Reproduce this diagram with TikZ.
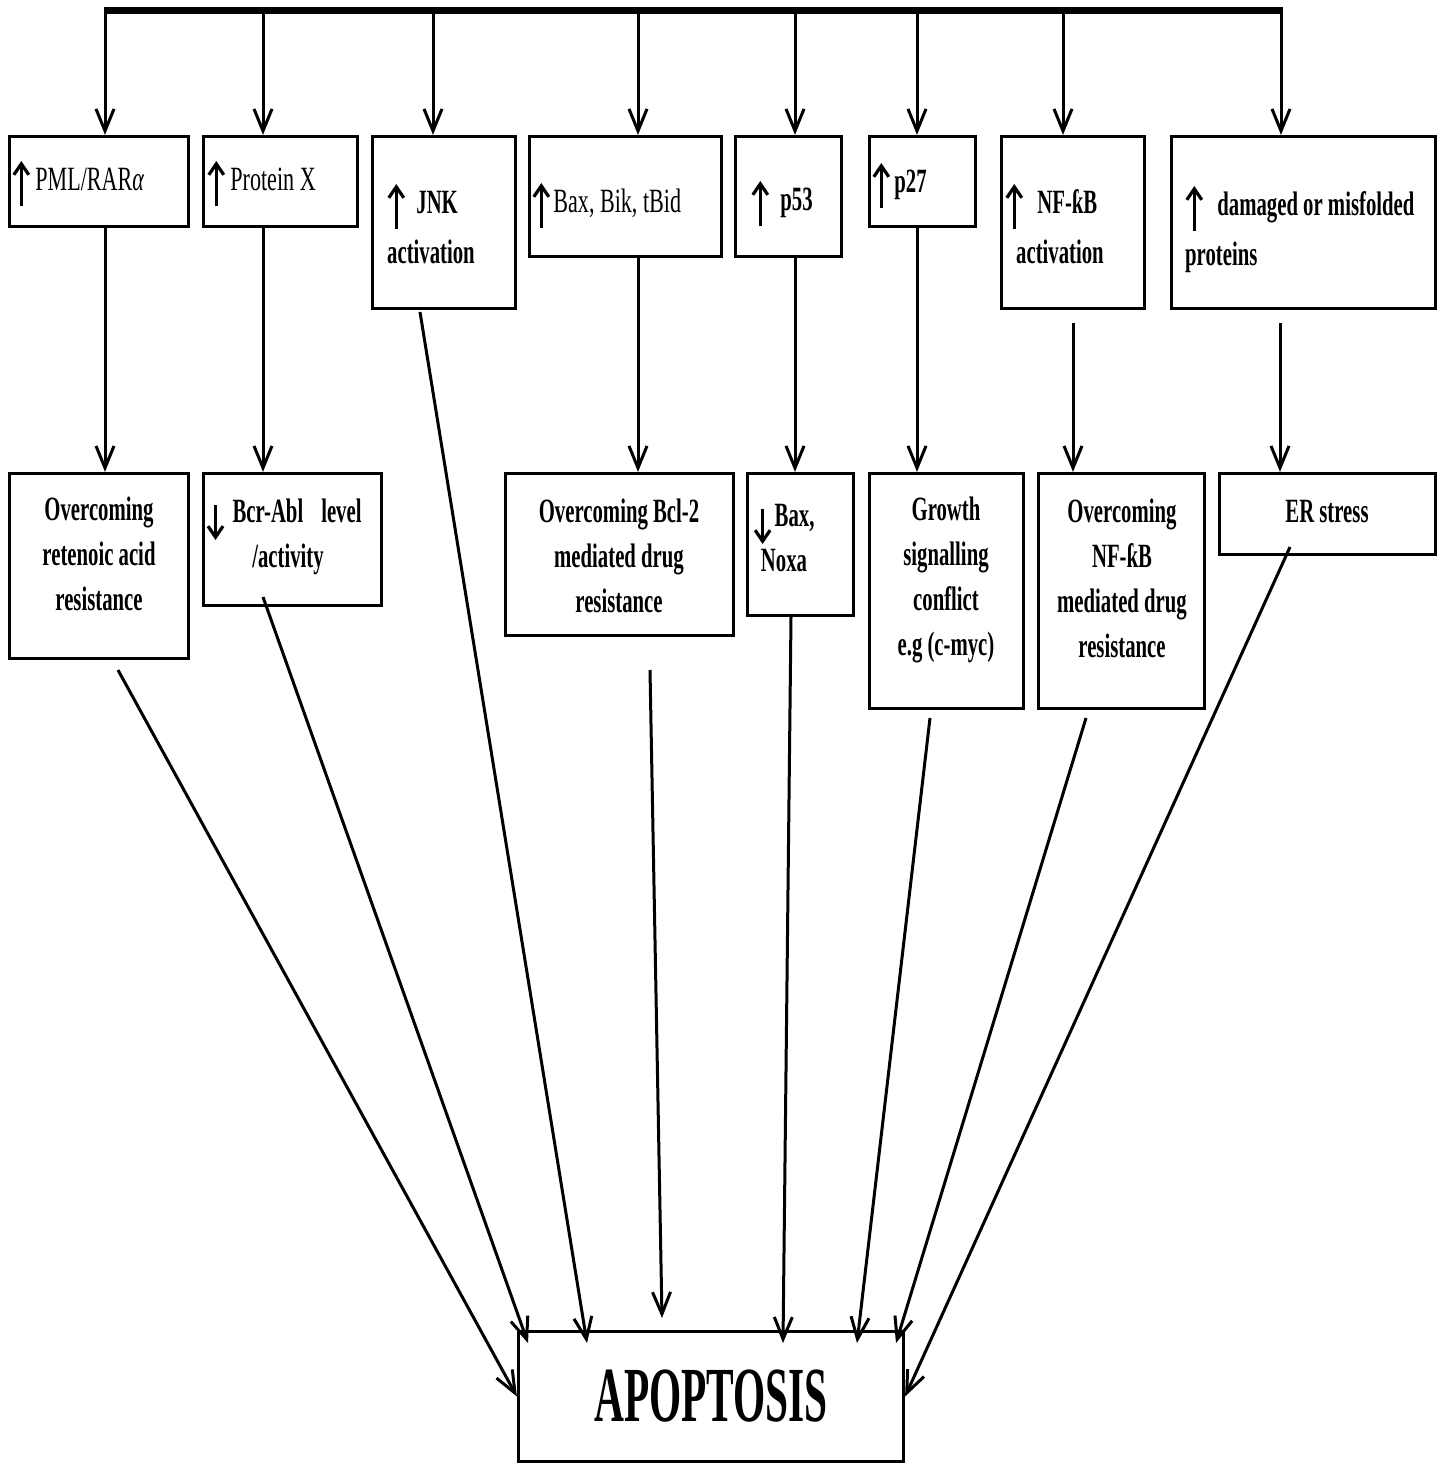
\documentclass[tikz,border=0pt]{standalone}
\usepackage{fontspec}
\usetikzlibrary{arrows.meta}
\newfontfamily\fr[FakeStretch=0.65]{Liberation Serif}
\newfontfamily\fb[FakeStretch=0.61]{Liberation Serif}
\newfontfamily\fa[FakeStretch=0.53]{Liberation Serif}
\newcommand\uparr{\tikz[baseline=0pt,x=1pt,y=1pt]\draw[line width=3.2pt,-{Straight Barb[length=11pt,width=15pt]}](0,-16)--(0,29);}
\newcommand\dnarr{\tikz[baseline=0pt,x=1pt,y=1pt]\draw[line width=3.2pt,-{Straight Barb[length=11pt,width=15pt]}](0,17)--(0,-18);}
\begin{document}
\begin{tikzpicture}[x=1pt,y=-1pt,
  box/.style={draw,line width=3.2pt,inner sep=0pt,rectangle},
  tr/.style={font=\fr\fontsize{34}{50}\selectfont,inner sep=0pt},
  tb/.style={font=\fb\bfseries\fontsize{34}{50}\selectfont,inner sep=0pt},
  tc/.style={font=\fb\bfseries\fontsize{34}{45}\selectfont,inner sep=0pt},
  arr/.style={line width=3pt,-{Straight Barb[length=22pt,width=18pt]}},
  bar/.style={line width=7pt}]
\fill[white] (0,0) rectangle (1443,1465);
\useasboundingbox (0,0) rectangle (1443,1465);
\newcommand\bx[5]{\node[box,minimum width={#4-#2-3},minimum height={#5-#3-3}] (#1) at ({(#2+#4)/2},{(#3+#5)/2}) {};}
% top row boxes
\bx{a1}{8}{135}{190}{228}
\bx{a2}{202}{135}{359}{228}
\bx{a3}{371}{135}{517}{310}
\bx{a4}{528}{135}{723}{258}
\bx{a5}{734}{135}{843}{258}
\bx{a6}{868}{135}{977}{228}
\bx{a7}{1000}{135}{1146}{310}
\bx{a8}{1170}{135}{1437}{310}
% second row boxes
\bx{c1}{8}{472}{190}{660}
\bx{c2}{202}{472}{383}{607}
\bx{c3}{504}{472}{735}{637}
\bx{c4}{746}{472}{855}{617}
\bx{c5}{868}{472}{1025}{710}
\bx{c6}{1037}{472}{1206}{710}
\bx{c7}{1218}{472}{1437}{556}
% apoptosis
\node[box,minimum width=385,minimum height=130,font=\fa\bfseries\fontsize{78}{80}\selectfont] (ap) at (711,1396.5) {APOPTOSIS};
% texts top row
\node[tr,anchor=base west] (a1t) at (12,190) {\uparr\hspace{5pt}PML/RAR\textit{α}};
\node[tr,anchor=base west] (a2t) at (207,190) {\uparr\hspace{5pt}Protein X};
\node[tb,anchor=base west,text width=130,align=flush left] (a3t) at (387,213) {\uparr\hspace{11pt}JNK\\activation};
\node[tr,anchor=base west] (a4t) at (532,212) {\uparr\hspace{3pt}Bax, Bik, tBid};
\node[tb,anchor=base west] (a5t) at (751,210) {\uparr\hspace{11pt}p53};
\node[tb,anchor=base west] (a6t) at (872,192) {\uparr\hspace{4pt}p27};
\node[tb,anchor=base west,text width=140,align=flush left] (a7t) at (1005,213) {\uparr\hspace{14pt}NF-ƙB\\\hspace*{11pt}activation};
\node[tb,anchor=base west,text width=250,align=flush left] (a8t) at (1185,215) {\uparr\hspace{14pt}damaged or misfolded\\proteins};
% texts second row
\node[tc,anchor=base,text width=180,align=flush center] (c1t) at (99,520) {Overcoming\\retenoic acid\\resistance};
\node[tc,anchor=base,text width=180,align=flush center] (c2t) at (284,522) {\dnarr\hspace{8pt}Bcr-Abl\hspace{18pt}level\\\hspace*{8pt}/activity};
\node[tc,anchor=base,text width=228,align=flush center] (c3t) at (619,522) {Overcoming Bcl-2\\mediated drug\\resistance};
\node[tc,anchor=base,text width=108,align=flush center] (c4t) at (784,526) {\dnarr\hspace{3pt}Bax,\\Noxa};
\node[tc,anchor=base,text width=155,align=flush center] (c5t) at (946,520) {Growth\\signalling\\conflict\\e.g (c-myc)};
\node[tc,anchor=base,text width=166,align=flush center] (c6t) at (1122,522) {Overcoming\\NF-ƙB\\mediated drug\\resistance};
\node[tc,anchor=base] (c7t) at (1327,522) {ER stress};
% top bar and drops
\coordinate (d1) at (105,10);
\coordinate (d2) at (263,10);
\coordinate (d3) at (433,10);
\coordinate (d4) at (638,10);
\coordinate (d5) at (795,10);
\coordinate (d6) at (917,10);
\coordinate (d7) at (1063,10);
\coordinate (d8) at (1281,10);
\draw[bar] ([xshift=-1.5pt]d1) -- ([xshift=1.5pt]d8);
\foreach \i in {1,...,8}{\draw[arr] (d\i) -- (d\i |- a\i.north);}
% middle arrows
\coordinate (m7) at (1073,323);
\coordinate (m8) at (1280,323);
\draw[arr] (d1 |- a1.south) -- (d1 |- c1.north);
\draw[arr] (d2 |- a2.south) -- (d2 |- c2.north);
\draw[arr] (d4 |- a4.south) -- (d4 |- c3.north);
\draw[arr] (d5 |- a5.south) -- (d5 |- c4.north);
\draw[arr] (d6 |- a6.south) -- (d6 |- c5.north);
\draw[arr] (m7) -- (m7 |- c6.north);
\draw[arr] (m8) -- (m8 |- c7.north);
% arrows to apoptosis
\coordinate (s1) at (118,670);
\coordinate (s2) at (263,597);
\coordinate (s3) at (420,312);
\coordinate (s4) at (650,670);
\coordinate (s5) at (791,617);
\coordinate (s6) at (930,718);
\coordinate (s7) at (1086,718);
\coordinate (s8) at (1290,547);
\coordinate (e2) at (528,1343);
\coordinate (e3) at (587,1343);
\coordinate (e4) at (662,1318);
\coordinate (e5) at (783,1343);
\coordinate (e6) at (857,1343);
\coordinate (e7) at (896,1343);
\draw[arr] (s1) -- (ap.west);
\draw[arr] (s2) -- (e2);
\draw[arr] (s3) -- (e3);
\draw[arr] (s4) -- (e4);
\draw[arr] (s5) -- (e5);
\draw[arr] (s6) -- (e6);
\draw[arr] (s7) -- (e7);
\draw[arr] (s8) -- (ap.east);
\end{tikzpicture}
\end{document}
